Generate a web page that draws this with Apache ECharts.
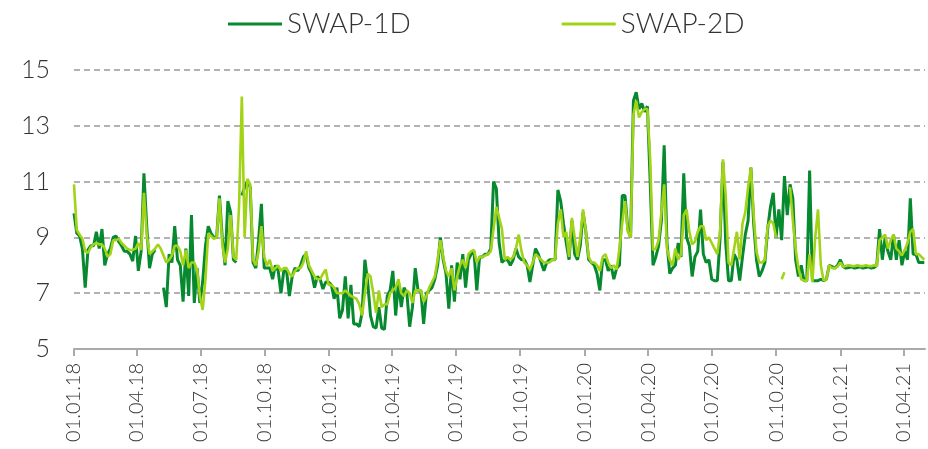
<!DOCTYPE html>
<html>
<head>
<meta charset="utf-8">
<script src="https://cdn.jsdelivr.net/npm/echarts@6/dist/echarts.min.js"></script>
<style>
  html, body { margin: 0; padding: 0; background: #fff; }
  #main { width: 928px; height: 449px; }
</style>
</head>
<body>
<div id="main"></div>
<script>
// values sampled every 4 days starting 01.01.2018
var stepDays = 4;
var seriesNames = ['SWAP-1D', 'SWAP-2D'];

var swap1d2018 = [9.86, 9.15, 9.05, 8.6, 7.2, 8.55, 8.7, 8.7, 9.2, 8.6, 9.3, 8.0, 8.4, 8.6, 9.0, 9.05, 8.85, 8.7, 8.5, 8.5,
  8.4, 8.15, 9.05, 7.8, 8.5, 11.3, 9.4, 7.9, 8.4, 8.55, null, null, 7.2, 6.5, 8.4, 8.1, 9.4, 8.2, 8.0, 6.7,
  8.6, 6.9, 9.8, 6.65, 7.9, 6.65, 7.4, 8.7, 9.4, 9.15, 9.0, 9.0, 10.5, 9.0, 8.0, 10.3, 9.9, 8.2, 8.1, null,
  10.5, 10.8, 11.0, 10.8, 8.1, 7.9, 8.9, 10.2, 7.9, 7.9, 7.9, 7.5, 8.0, 7.8, 7.0, 7.8, 7.8, 6.9, 7.6, 7.9,
  7.8, 8.0, 8.3, 8.4, 7.9, 7.7, 7.2, 7.6, 7.5, 7.15, 7.4, 7.4];
var swap1d2019 = [7.3, 6.8, 7.2, 6.1, 6.4, 7.6, 6.1, 7.3, 5.9, 5.9, 5.8, 6.3, 8.2, 7.4, 6.2, 5.8, 5.75, 6.5, 5.75, 5.7,
  6.9, 7.1, 7.8, 6.2, 7.4, 6.5, 7.2, 7.0, 5.8, 6.5, 7.9, 7.1, 7.1, 5.9, 7.0, 7.1, 7.2, 7.5, 8.0, 9.0,
  8.2, 7.7, 6.45, 8.0, 6.7, 8.1, 7.5, 8.4, 7.2, 8.2, 8.4, 8.5, 7.1, 8.3, 8.3, 8.4, 8.4, 8.6, 11.0, 10.75,
  8.8, 8.1, 8.2, 8.2, 8.0, 8.2, 8.6, 8.3, 8.2, 8.2, 8.0, 7.4, 8.0, 8.6, 8.4, 8.1, 7.8, 8.1, 8.2, 8.2,
  8.2, 10.7, 10.3, 9.5, 8.8, 8.2, 9.6, 8.4, 8.2, 8.7, 9.9];
var swap1d2020 = [9.2, 8.2, 8.1, 8.0, 7.7, 7.1, 8.2, 8.2, 7.8, 8.0, 7.5, 7.9, 8.0, 10.5, 10.5, 9.3, 9.0, 13.9, 14.2, 13.6,
  13.8, 13.5, 13.7, 11.0, 8.0, 8.3, 8.7, 9.6, 12.3, 8.8, 7.7, 7.9, 8.0, 8.8, 8.3, 11.3, 9.0, 8.7, 7.6, 8.3,
  8.5, 10.0, 8.4, 8.1, 8.2, 7.5, 7.45, 7.45, 9.0, 11.7, 8.8, 7.45, 7.45, 8.4, 8.2, 7.45, 8.3, 9.1, 9.6, 11.5,
  9.5, 8.2, 7.6, 7.8, 8.1, 9.3, 10.1, 10.6, 9.0, 10.0, 8.9, 11.2, 9.8, 10.9, 10.4, 8.2, 7.6, 8.0, 7.45, 7.45,
  11.4, 7.45, 7.45, 7.45, 7.5, 7.45, 7.5, 8.0, 7.95, 7.9, 8.0];
var swap1d2021 = [8.2, 7.95, 7.9, 7.92, 7.95, 7.9, 7.92, 7.95, 7.9, 7.92, 7.95, 7.9, 7.92, 8.0, 9.3, 8.2, 9.0, 8.5, 8.2, 9.1,
  8.2, 8.9, 8.0, 8.5, 8.2, 10.4, 8.4, 8.4, 8.1, 8.1, 8.1];

var swap2d2018 = [10.9, 9.26, 9.1, 8.95, 8.5, 8.45, 8.65, 8.75, 8.8, 8.75, 8.75, 8.6, 8.3, 8.4, 8.9, 8.9, 8.95, 8.8, 8.7, 8.6,
  8.55, 8.55, 8.6, 8.8, 8.55, 10.6, 9.1, 8.4, 8.5, 8.6, 8.75, 8.6, 8.35, 8.1, 8.2, 8.35, 8.7, 8.7, 8.5, 8.0,
  8.55, 7.9, 8.1, 8.1, 7.85, 6.9, 6.4, 7.5, 9.15, 9.05, 8.95, 9.0, 10.4, 8.8, 8.1, 8.6, 9.8, 8.3, 8.2, 10.1,
  14.05, 9.0, 11.1, 10.9, 8.2, 8.0, 8.5, 9.4, 8.3, 8.0, 8.2, 7.8, 7.9, 8.0, 7.8, 7.9, 7.9, 7.7, 7.6, 7.8,
  7.9, 7.9, 8.1, 8.5, 8.0, 7.8, 7.6, 7.5, 7.5, 7.7, 7.85, 7.3];
var swap2d2019 = [7.3, 7.2, 7.0, 7.0, 7.0, 7.1, 7.0, 6.9, 6.85, 6.8, 6.6, 6.2, 7.0, 7.7, 7.6, 7.0, 6.3, 7.1, 6.5, 6.6,
  6.6, 7.0, 7.1, 7.2, 7.5, 7.0, 6.9, 7.1, 7.0, 6.65, 7.1, 7.1, 7.1, 6.7, 6.9, 7.2, 7.4, 7.6, 8.2, 8.9,
  8.3, 7.8, 7.6, 7.9, 7.1, 7.6, 8.0, 8.2, 7.9, 8.4, 8.5, 8.55, 8.1, 8.3, 8.3, 8.35, 8.4, 8.5, 9.3, 10.1,
  9.7, 9.3, 8.2, 8.3, 8.2, 8.3, 8.6, 9.1, 8.5, 8.1, 8.0, 7.85, 8.1, 8.4, 8.3, 8.2, 8.1, 8.1, 8.1, 8.2,
  8.2, 9.5, 10.0, 9.0, 9.2, 8.3, 9.7, 9.0, 8.3, 9.0, 10.0];
var swap2d2020 = [9.2, 8.3, 8.1, 8.1, 8.0, 7.8, 8.3, 8.4, 8.1, 7.9, 8.0, 7.85, 8.6, 9.5, 10.3, 9.2, 9.0, 13.4, 13.9, 13.3,
  13.5, 13.6, 13.6, 11.8, 8.55, 8.6, 8.9, 9.9, 10.9, 8.6, 8.2, 8.0, 8.6, 8.2, 8.4, 9.8, 10.0, 9.2, 8.75, 8.85,
  9.2, 9.4, 9.4, 8.9, 9.0, 8.8, 8.6, 8.4, 9.2, 11.8, 10.5, 8.1, 8.0, 8.6, 9.2, 8.2, 9.5, 9.9, 10.8, 11.5,
  9.8, 8.5, 8.1, 8.1, 8.2, 9.4, 9.6, 9.5, 9.0, null, 7.5, 7.75, null, 10.8, 9.6, 8.6, 7.9, 7.5, 7.45, 7.45,
  8.4, 7.4, 9.0, 10.0, 8.0, 7.45, 7.5, 8.0, 7.9, 7.9, 7.95];
var swap2d2021 = [8.1, 7.95, 7.98, 8.0, 7.98, 7.97, 8.0, 7.98, 7.97, 8.0, 7.98, 7.97, 8.0, 7.98, 8.9, 9.0, 9.1, 8.6, 8.9, 9.1,
  8.6, 8.5, 8.35, 8.55, 8.8, 9.2, 9.3, 8.4, 8.4, 8.3, 8.2];

var tickDates = ['2018-01-01', '2018-04-01', '2018-07-01', '2018-10-01', '2019-01-01', '2019-04-01', '2019-07-01',
  '2019-10-01', '2020-01-01', '2020-04-01', '2020-07-01', '2020-10-01', '2021-01-01', '2021-04-01'];

var DAY = 86400000;
var start = Date.UTC(2018, 0, 1);
var end = start + 1217 * DAY;

function toPoints(vals) {
  return vals.map(function (v, i) { return [start + i * stepDays * DAY, v]; });
}
var swap1d = toPoints([].concat(swap1d2018, swap1d2019, swap1d2020, swap1d2021));
var swap2d = toPoints([].concat(swap2d2018, swap2d2019, swap2d2020, swap2d2021));
var tickVals = tickDates.map(function (s) { return Date.parse(s + 'T00:00:00Z'); });

function pad(n) { return n < 10 ? '0' + n : '' + n; }
function fmtDate(v) {
  var d = new Date(v);
  return pad(d.getUTCDate()) + '.' + pad(d.getUTCMonth() + 1) + '.' + pad(d.getUTCFullYear() % 100);
}

var myChart = echarts.init(document.getElementById('main'));
var option = {
  animation: false,
  textStyle: { fontFamily: 'Lato', fontWeight: 300 },
  legend: {
    left: 223,
    top: 5,
    icon: 'rect',
    itemWidth: 54,
    itemHeight: 3,
    itemGap: 151,
    textStyle: { fontSize: 28, color: '#333', fontFamily: 'Lato', fontWeight: 300 },
    data: seriesNames
  },
  grid: { left: 74, right: 3, top: 70, bottom: 100, outerBoundsMode: 'none' },
  xAxis: {
    type: 'value',
    min: start,
    max: end,
    axisLine: { lineStyle: { color: '#aaa', width: 2 } },
    axisTick: { customValues: tickVals, length: 7, lineStyle: { color: '#aaa', width: 2 } },
    axisLabel: {
      customValues: tickVals,
      rotate: 90,
      margin: 14,
      fontSize: 20,
      color: '#333',
      formatter: fmtDate
    },
    splitLine: { show: false }
  },
  yAxis: {
    type: 'value',
    min: 5,
    max: 15,
    interval: 2,
    axisLine: { show: false },
    axisTick: { show: false },
    axisLabel: { fontSize: 25, color: '#333', margin: 24 },
    splitLine: { lineStyle: { color: '#999', type: [6, 4], width: 1.5 } }
  },
  series: [
    {
      name: seriesNames[0],
      type: 'line',
      showSymbol: false,
      symbol: 'none',
      color: '#06892f',
      lineStyle: { width: 3, color: '#06892f' },
      data: swap1d
    },
    {
      name: seriesNames[1],
      type: 'line',
      showSymbol: false,
      symbol: 'none',
      color: '#a2d316',
      lineStyle: { width: 2.6, color: '#a2d316' },
      data: swap2d
    }
  ]
};
myChart.setOption(option);
</script>
</body>
</html>
